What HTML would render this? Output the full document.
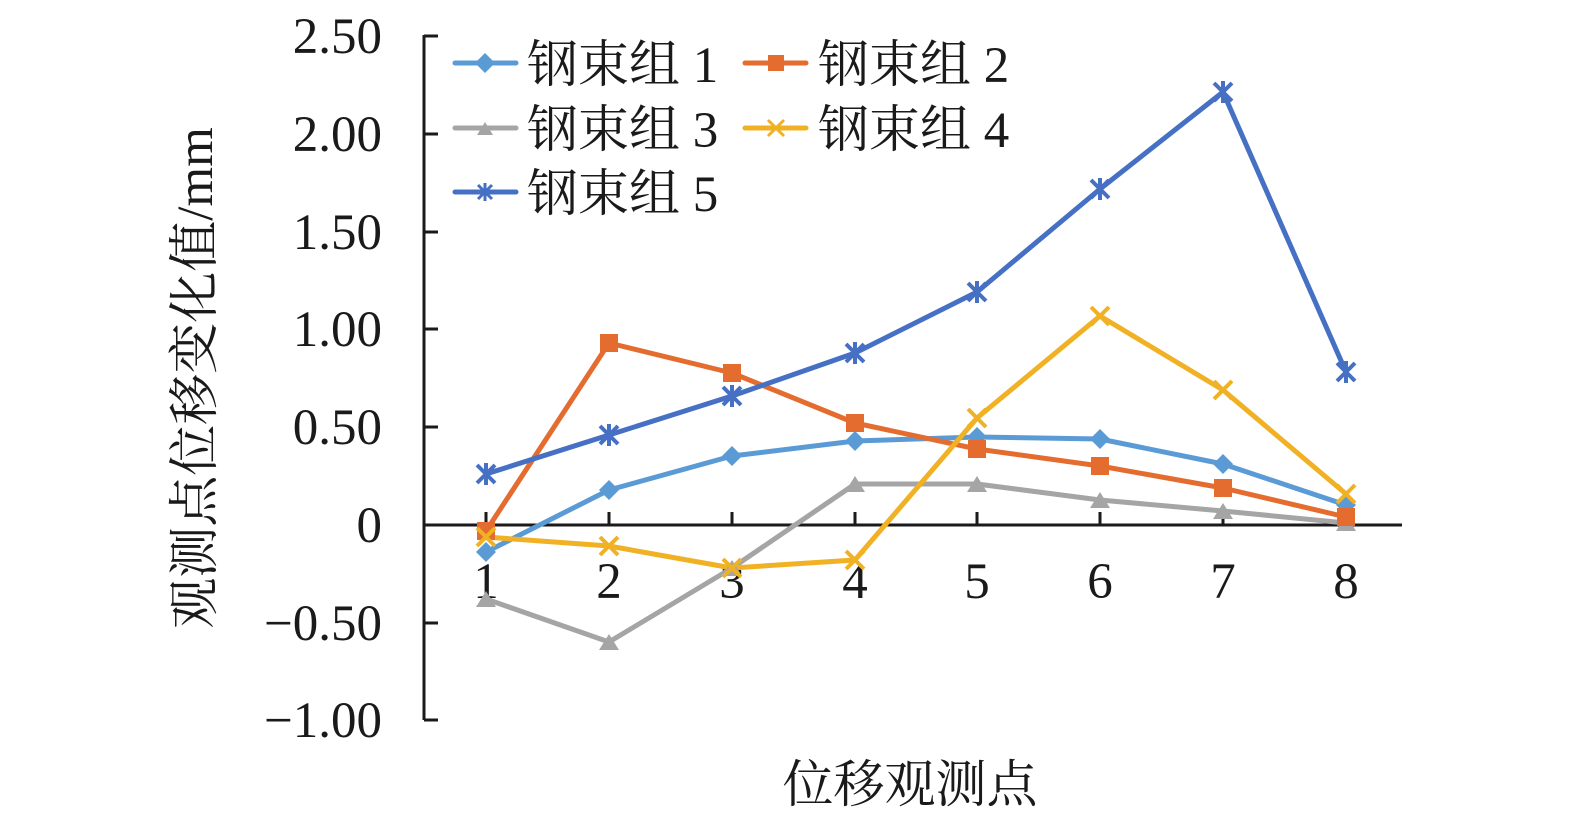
<!DOCTYPE html>
<html><head><meta charset="utf-8"><style>
body{margin:0;background:#fff}
svg text{font-family:"Liberation Serif","Noto Serif CJK SC",serif;fill:#1a1a1a}
</style></head><body>
<svg width="1575" height="819" xmlns="http://www.w3.org/2000/svg">
<defs>
<g id="dia"><path d="M0,-10 L10,0 L0,10 L-10,0Z"/></g>
</defs>
<g stroke="#1a1a1a" stroke-width="3" fill="none">
<line x1="424" y1="35" x2="424" y2="720"/>
<line x1="424" y1="525" x2="1402" y2="525"/>
<line x1="424" y1="36" x2="438" y2="36"/>
<line x1="424" y1="134" x2="438" y2="134"/>
<line x1="424" y1="232" x2="438" y2="232"/>
<line x1="424" y1="329" x2="438" y2="329"/>
<line x1="424" y1="427" x2="438" y2="427"/>
<line x1="424" y1="623" x2="438" y2="623"/>
<line x1="424" y1="720" x2="438" y2="720"/>
<line x1="486" y1="525" x2="486" y2="512"/>
<line x1="609" y1="525" x2="609" y2="512"/>
<line x1="732" y1="525" x2="732" y2="512"/>
<line x1="855" y1="525" x2="855" y2="512"/>
<line x1="977" y1="525" x2="977" y2="512"/>
<line x1="1100" y1="525" x2="1100" y2="512"/>
<line x1="1223" y1="525" x2="1223" y2="512"/>
<line x1="1346" y1="525" x2="1346" y2="512"/>
</g>
<g font-size="51" text-anchor="end">
<text x="382" y="53">2.50</text><text x="382" y="151">2.00</text><text x="382" y="249">1.50</text><text x="382" y="346">1.00</text><text x="382" y="444">0.50</text><text x="382" y="542">0</text><text x="382" y="640">−0.50</text><text x="382" y="737">−1.00</text>
</g>
<g font-size="51" text-anchor="middle">
<text x="486" y="598">1</text><text x="609" y="598">2</text><text x="732" y="598">3</text><text x="855" y="598">4</text><text x="977" y="598">5</text><text x="1100" y="598">6</text><text x="1223" y="598">7</text><text x="1346" y="598">8</text>
</g>
<text x="910" y="802" font-size="51" text-anchor="middle">位移观测点</text>
<text transform="translate(212,378) rotate(-90)" font-size="51" text-anchor="middle">观测点位移变化值/mm</text>
<g fill="none" stroke-width="5" stroke-linejoin="round">
<polyline stroke="#a5a5a5" points="486,599 609,642 732,568 855,484 977,484 1100,500 1223,511 1346,523"/>
<polyline stroke="#5b9bd5" points="486,552 609,490 732,456 855,441 977,437 1100,439 1223,464 1346,505"/>
<polyline stroke="#e46c2f" points="486,531 609,343 732,373 855,423 977,449 1100,466 1223,488 1346,517"/>
<polyline stroke="#f0b124" points="486,537 609,546 732,568 855,560 977,418 1100,316 1223,390 1346,494"/>
<polyline stroke="#4670c4" points="486,474 609,435 732,396 855,353 977,292 1100,189 1223,92 1346,372"/>
</g>
<g fill="#a5a5a5"><path d="M476,607 L486,591 L496,607Z"/><path d="M599,650 L609,634 L619,650Z"/><path d="M722,576 L732,560 L742,576Z"/><path d="M845,492 L855,476 L865,492Z"/><path d="M967,492 L977,476 L987,492Z"/><path d="M1090,508 L1100,492 L1110,508Z"/><path d="M1213,519 L1223,503 L1233,519Z"/><path d="M1336,531 L1346,515 L1356,531Z"/></g>
<g fill="#5b9bd5"><use href="#dia" x="486" y="552"/><use href="#dia" x="609" y="490"/><use href="#dia" x="732" y="456"/><use href="#dia" x="855" y="441"/><use href="#dia" x="977" y="437"/><use href="#dia" x="1100" y="439"/><use href="#dia" x="1223" y="464"/><use href="#dia" x="1346" y="505"/></g>
<g fill="#e46c2f"><rect x="477" y="522" width="18" height="18"/><rect x="600" y="334" width="18" height="18"/><rect x="723" y="364" width="18" height="18"/><rect x="846" y="414" width="18" height="18"/><rect x="968" y="440" width="18" height="18"/><rect x="1091" y="457" width="18" height="18"/><rect x="1214" y="479" width="18" height="18"/><rect x="1337" y="508" width="18" height="18"/></g>
<g stroke="#f0b124" stroke-width="4">
<path d="M477,528l18,18m0,-18l-18,18M600,537l18,18m0,-18l-18,18M723,559l18,18m0,-18l-18,18M846,551l18,18m0,-18l-18,18M968,409l18,18m0,-18l-18,18M1091,307l18,18m0,-18l-18,18M1214,381l18,18m0,-18l-18,18M1337,485l18,18m0,-18l-18,18"/>
</g>
<g stroke="#4670c4" stroke-width="4">
<path d="M477,465l18,18m0,-18l-18,18m9,-20v22M600,426l18,18m0,-18l-18,18m9,-20v22M723,387l18,18m0,-18l-18,18m9,-20v22M846,344l18,18m0,-18l-18,18m9,-20v22M968,283l18,18m0,-18l-18,18m9,-20v22M1091,180l18,18m0,-18l-18,18m9,-20v22M1214,83l18,18m0,-18l-18,18m9,-20v22M1337,363l18,18m0,-18l-18,18m9,-20v22"/>
</g>
<g stroke-width="5" stroke-linecap="round">
<line x1="455" y1="63" x2="516" y2="63" stroke="#5b9bd5"/>
<line x1="455" y1="128" x2="516" y2="128" stroke="#a5a5a5"/>
<line x1="455" y1="192" x2="516" y2="192" stroke="#4670c4"/>
<line x1="745" y1="63" x2="806" y2="63" stroke="#e46c2f"/>
<line x1="745" y1="128" x2="806" y2="128" stroke="#f0b124"/>
</g>
<use href="#dia" x="485" y="63" fill="#5b9bd5"/>
<path d="M477,135 L485,122 L493,135Z" fill="#a5a5a5"/>
<path d="M478,185l14,14m0,-14l-14,14m7,-16v18" stroke="#4670c4" stroke-width="3"/>
<rect x="768" y="55" width="16" height="16" fill="#e46c2f"/>
<path d="M768,120l16,16m0,-16l-16,16" stroke="#f0b124" stroke-width="3"/>
<g font-size="51">
<text x="527" y="82">钢束组 1</text>
<text x="527" y="147">钢束组 3</text>
<text x="527" y="211">钢束组 5</text>
<text x="818" y="82">钢束组 2</text>
<text x="818" y="147">钢束组 4</text>
</g>
</svg>
</body></html>
